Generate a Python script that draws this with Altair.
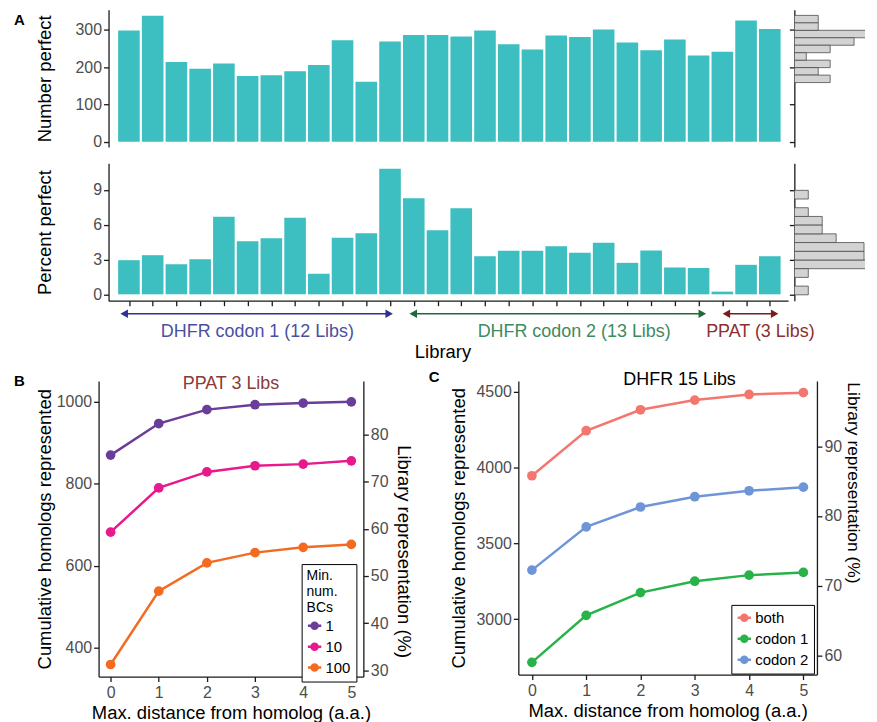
import altair as alt
import pandas as pd

FONT = "Liberation Sans"
TEAL = "#3DBEC1"

# ---------------- Panel A data ----------------
libraries = list(range(1, 29))
number_perfect = [298, 338, 214, 196, 210, 176, 178, 189, 206, 272, 161, 269, 286, 286,
                  282, 298, 261, 247, 285, 281, 301, 266, 245, 274, 231, 241, 325, 302]
percent_perfect = [2.94, 3.37, 2.60, 3.02, 6.68, 4.57, 4.82, 6.60, 1.77, 4.88, 5.27, 10.82, 8.27, 5.51,
                   7.42, 3.28, 3.76, 3.76, 4.14, 3.57, 4.45, 2.71, 3.77, 2.31, 2.27, 0.23, 2.54, 3.28]
number_ticks = [0, 100, 200, 300]
percent_ticks = [0, 3, 6, 9]

group_names = ["DHFR codon 1 (12 Libs)", "DHFR codon 2 (13 Libs)", "PPAT (3 Libs)"]
group_first = [1, 13, 26]
group_last = [12, 25, 28]
group_label_at = [6.53, 19.68, 27.41]
group_arrow_colors = ["#2E3192", "#1D6B3A", "#7A1D1D"]
group_text_colors = ["#4A4FA2", "#3D8B5E", "#8E2F2F"]

# ---------------- Panel B data ----------------
distance = [0, 1, 2, 3, 4, 5]
ppat_series = ["1", "10", "100"]
ppat_1 = [870, 947, 981, 993, 997, 1000]
ppat_10 = [682, 790, 829, 844, 848, 856]
ppat_100 = [359, 538, 607, 632, 645, 652]
ppat_colors = ["#6A3D9A", "#E7198C", "#F26B21"]
ppat_total = 1150
ppat_left_ticks = [400, 600, 800, 1000]
ppat_right_ticks = [30, 40, 50, 60, 70, 80]

# ---------------- Panel C data ----------------
dhfr_series = ["both", "codon 1", "codon 2"]
dhfr_both = [3945, 4242, 4380, 4444, 4481, 4493]
dhfr_codon1 = [2715, 3025, 3175, 3250, 3290, 3308]
dhfr_codon2 = [3323, 3608, 3739, 3807, 3846, 3870]
dhfr_colors = ["#F3776F", "#27B24A", "#6E95D8"]
dhfr_total = 4600
dhfr_left_ticks = [3000, 3500, 4000, 4500]
dhfr_right_ticks = [60, 70, 80, 90]

panel_letters = ["A", "B", "C"]

# ---------------- tables ----------------
dfA = pd.DataFrame({"lib": libraries, "number": number_perfect, "pct": percent_perfect})
dfG = pd.DataFrame({"name": group_names, "first": group_first, "last": group_last,
                    "label_at": group_label_at, "arrow_color": group_arrow_colors,
                    "text_color": group_text_colors})
dfB = pd.DataFrame([{"dist": d, "bcs": s, "homologs": v}
                    for s, vals in zip(ppat_series, [ppat_1, ppat_10, ppat_100])
                    for d, v in zip(distance, vals)])
dfC = pd.DataFrame([{"dist": d, "kind": s, "homologs": v}
                    for s, vals in zip(dhfr_series, [dhfr_both, dhfr_codon1, dhfr_codon2])
                    for d, v in zip(distance, vals)])

# Panel A plots sit 10px right of panel B's plot: the x range is inset and the y axis moved onto it.
INSET = 10
MAIN_W, MAIN_H, HIST_W = 692.7, 138, 71
lib_scale = alt.Scale(domain=[0.35, 28.56], range=[INSET, MAIN_W], nice=False, zero=False)
num_scale = alt.Scale(domain=[-14, 354], nice=False, zero=False)
pct_scale = alt.Scale(domain=[-0.55, 11.28], nice=False, zero=False)


def text_chart(text, x, y, size=15, weight="bold", color="black", opacity=1.0,
               align="left", baseline="middle"):
    return alt.Chart(pd.DataFrame({"t": [text]})).mark_text(
        fontSize=size, fontWeight=weight, align=align, baseline=baseline,
        color=color, opacity=opacity
    ).encode(text="t:N", x=alt.value(x), y=alt.value(y))


# ---------------- Row 1 ----------------
top_bars = alt.Chart(dfA).mark_bar(color=TEAL, size=21.7).encode(
    x=alt.X("lib:Q", scale=lib_scale, axis=None),
    y=alt.Y("number:Q", scale=num_scale,
            axis=alt.Axis(values=number_ticks, title="Number perfect", titleX=-54,
                          titleBaseline="bottom", format="d", offset=-INSET)),
    y2=alt.datum(0),
)
top_main = alt.layer(top_bars, text_chart(panel_letters[0], -85, 10)).properties(
    width=MAIN_W, height=MAIN_H)

top_hist = alt.Chart(dfA).mark_bar(color="#D3D3D3", stroke="#4D4D4D", strokeWidth=0.8,
                                   binSpacing=0, clip=True).encode(
    y=alt.Y("number:Q", bin=alt.Bin(step=20), scale=num_scale,
            axis=alt.Axis(values=number_ticks, labels=False, title=None)),
    x=alt.X("count():Q", scale=alt.Scale(domain=[0, HIST_W / 12.0], nice=False), axis=None),
).properties(width=HIST_W, height=MAIN_H)

# ---------------- Row 2 ----------------
bot_bars = alt.Chart(dfA).mark_bar(color=TEAL, size=21.7).encode(
    x=alt.X("lib:Q", scale=lib_scale,
            axis=alt.Axis(values=libraries, labels=False, title=None)),
    y=alt.Y("pct:Q", scale=pct_scale,
            axis=alt.Axis(values=percent_ticks, title="Percent perfect", titleX=-54,
                          titleBaseline="bottom", format="d", offset=-INSET)),
    y2=alt.datum(0),
)
bot_main = bot_bars.properties(width=MAIN_W, height=MAIN_H)

bot_hist = alt.Chart(dfA).transform_filter("datum.pct < 10").mark_bar(
    color="#D3D3D3", stroke="#4D4D4D", strokeWidth=0.8, binSpacing=0, clip=True).encode(
    y=alt.Y("pct:Q", bin=alt.Bin(step=0.75), scale=pct_scale,
            axis=alt.Axis(values=percent_ticks, labels=False, title=None)),
    x=alt.X("count():Q", scale=alt.Scale(domain=[0, HIST_W / 14.0], nice=False), axis=None),
).properties(width=HIST_W, height=MAIN_H)

# ---------------- Annotation row ----------------
ARROW_Y, GROUP_Y, LIB_Y = 5, 23, 43
arrows = alt.Chart(dfG).mark_rule(strokeWidth=1.6).encode(
    x=alt.X("first:Q", scale=lib_scale, axis=None), x2="last:Q",
    y=alt.value(ARROW_Y), color=alt.Color("arrow_color:N", scale=None))
heads_l = alt.Chart(dfG).mark_point(shape="triangle-left", filled=True, size=75, opacity=1).encode(
    x=alt.X("first:Q", scale=lib_scale, axis=None), y=alt.value(ARROW_Y),
    color=alt.Color("arrow_color:N", scale=None))
heads_r = alt.Chart(dfG).mark_point(shape="triangle-right", filled=True, size=75, opacity=1).encode(
    x=alt.X("last:Q", scale=lib_scale, axis=None), y=alt.value(ARROW_Y),
    color=alt.Color("arrow_color:N", scale=None))
group_text = alt.Chart(dfG).mark_text(fontSize=18, baseline="middle").encode(
    x=alt.X("label_at:Q", scale=lib_scale, axis=None), y=alt.value(GROUP_Y),
    text="name:N", color=alt.Color("text_color:N", scale=None))
lib_text = text_chart("Library", 336 + INSET, LIB_Y, size=18.5, weight="normal", align="center")
annot = alt.layer(arrows, heads_l, heads_r, group_text, lib_text).properties(
    width=MAIN_W, height=1)

# ---------------- Panel B ----------------
KEY_PATH = "M-1,0L1,0M-0.45,0A0.45,0.45,0,1,1,0.45,0A0.45,0.45,0,1,1,-0.45,0Z"
legend_common = dict(orient="none", strokeColor="black", padding=5, fillColor="white",
                     labelFontSize=15, labelColor="black", titleFontSize=14,
                     titleFontWeight="normal", titleColor="black", titleLineHeight=16,
                     symbolType=KEY_PATH, symbolSize=180, symbolStrokeWidth=2.5,
                     labelOffset=3, rowPadding=3, titlePadding=3)

dist_scale = alt.Scale(domain=[-0.25, 5.25], nice=False, zero=False)
x_axis = alt.Axis(values=distance, title="Max. distance from homolog (a.a.)",
                  labelPadding=3, titlePadding=3, format="d")

B_W, B_H = 266, 297
b_lo, b_hi = 329.6, 1051
b_left = alt.Scale(domain=[b_lo, b_hi], nice=False, zero=False)
b_right = alt.Scale(domain=[b_lo * 100 / ppat_total, b_hi * 100 / ppat_total], nice=False, zero=False)
b_color_scale = alt.Scale(domain=ppat_series, range=ppat_colors)

b_base = alt.Chart(dfB).encode(
    x=alt.X("dist:Q", scale=dist_scale, axis=x_axis),
    y=alt.Y("homologs:Q", scale=b_left,
            axis=alt.Axis(values=ppat_left_ticks, title="Cumulative homologs represented",
                          titleX=-44, titleBaseline="bottom", format="d")),
)
b_line = b_base.mark_line(strokeWidth=2.5).encode(
    color=alt.Color("bcs:N", scale=b_color_scale,
                    legend=alt.Legend(title=["Min.", "num.", "BCs"], legendX=204, legendY=184,
                                      **legend_common)))
b_pts = b_base.mark_circle(size=95, opacity=1).encode(
    color=alt.Color("bcs:N", scale=b_color_scale, legend=None))
b_inner = alt.layer(b_line, b_pts,
                    text_chart("PPAT 3 Libs", B_W / 2, 8, size=18, weight="normal",
                               color="#8B3A3A", align="center", baseline="alphabetic"),
                    text_chart(panel_letters[1], -85, 0))
b_right_layer = alt.Chart(dfB).transform_calculate(
    rep=f"datum.homologs * 100 / {ppat_total}").mark_point(opacity=0).encode(
    x=alt.X("dist:Q", scale=dist_scale, axis=x_axis),
    y=alt.Y("rep:Q", scale=b_right,
            axis=alt.Axis(orient="right", values=ppat_right_ticks,
                          title="Library representation (%)", titleAngle=90,
                          titleBaseline="bottom", titleX=30, titleY=171, format="d")))
B = alt.layer(b_inner, b_right_layer).resolve_scale(y="independent").properties(
    width=B_W, height=B_H)

# ---------------- Panel C ----------------
C_W, C_H = 300, 295
c_lo, c_hi = 2634.5, 4570.2
c_left = alt.Scale(domain=[c_lo, c_hi], nice=False, zero=False)
c_right = alt.Scale(domain=[c_lo * 100 / dhfr_total, c_hi * 100 / dhfr_total], nice=False, zero=False)
c_color_scale = alt.Scale(domain=dhfr_series, range=dhfr_colors)

c_base = alt.Chart(dfC).encode(
    x=alt.X("dist:Q", scale=dist_scale, axis=x_axis),
    y=alt.Y("homologs:Q", scale=c_left,
            axis=alt.Axis(values=dhfr_left_ticks, title="Cumulative homologs represented",
                          titleX=-50, titleBaseline="bottom", format="d")),
)
c_line = c_base.mark_line(strokeWidth=2.5).encode(
    color=alt.Color("kind:N", scale=c_color_scale,
                    legend=alt.Legend(title=None, legendX=214, legendY=225, **legend_common)))
c_pts = c_base.mark_circle(size=95, opacity=1).encode(
    color=alt.Color("kind:N", scale=c_color_scale, legend=None))
c_inner = alt.layer(c_line, c_pts,
                    text_chart("DHFR 15 Libs", 162, 4.5, size=18, weight="normal",
                               color="black", align="center", baseline="alphabetic"),
                    text_chart(panel_letters[2], -90, -4))
c_right_layer = alt.Chart(dfC).transform_calculate(
    rep=f"datum.homologs * 100 / {dhfr_total}").mark_point(opacity=0).encode(
    x=alt.X("dist:Q", scale=dist_scale, axis=x_axis),
    y=alt.Y("rep:Q", scale=c_right,
            axis=alt.Axis(orient="right", values=dhfr_right_ticks,
                          title="Library representation (%)", titleAngle=90,
                          titleBaseline="bottom", titleX=27, titleY=102, titleFontSize=17.5,
                          format="d")))
C = alt.layer(c_inner, c_right_layer).resolve_scale(y="independent").properties(
    width=C_W, height=C_H)

# ---------------- Layout ----------------
row1 = alt.hconcat(top_main, top_hist, spacing=0)
row2 = alt.hconcat(bot_main, bot_hist, spacing=0)
annot_row = alt.hconcat(annot)
row3 = alt.hconcat(B, C, spacing=16.7).resolve_scale(color="independent").resolve_legend(
    color="independent")

panel_a = alt.vconcat(alt.vconcat(row1, row2, spacing=13.4), annot_row, spacing=1.5)

chart = alt.vconcat(panel_a, row3, spacing=9).resolve_scale(
    color="independent").properties(
    padding={"left": 6, "top": 0, "right": 4, "bottom": 0}
).configure(font=FONT).configure_view(stroke=None).configure_axis(
    labelFontSize=16, labelColor="#4D4D4D", titleFontSize=18.5, titleFontWeight="normal",
    titleColor="black", domainColor="#1A1A1A", tickColor="#1A1A1A", domainWidth=1.3,
    tickWidth=1.3, tickSize=5, labelPadding=2, grid=False
)

chart.save("out.html", embed_options={"renderer": "svg", "actions": False})
